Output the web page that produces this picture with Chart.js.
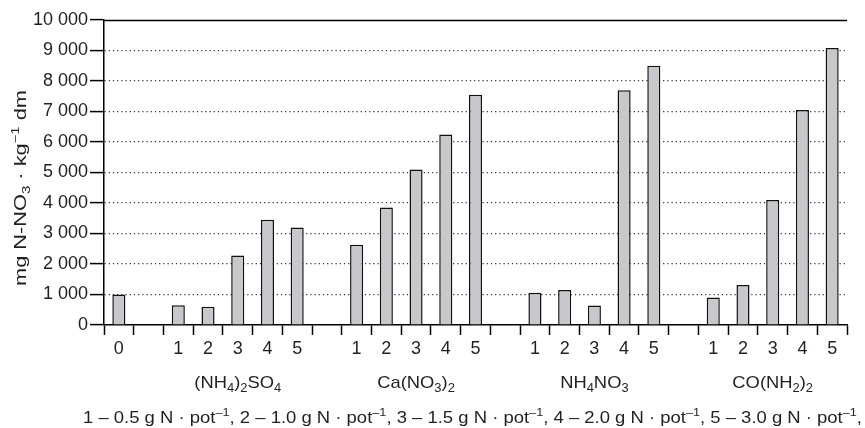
<!DOCTYPE html>
<html>
<head>
<meta charset="utf-8">
<script src="https://cdn.jsdelivr.net/npm/chart.js@4/dist/chart.umd.min.js"></script>
<style>
  html, body { margin: 0; padding: 0; background: #ffffff; }
  #wrap { width: 865px; height: 428px; position: relative; }
</style>
</head>
<body>
<div id="wrap"><canvas id="chart" width="865" height="428"></canvas></div>
<script>
// Nitrate content, mg N-NO3 per kg dry matter
const controlValues = [1000];
const ammoniumSulfate = [650, 600, 2280, 3450, 3200];
const calciumNitrate = [2630, 3850, 5100, 6250, 7550];
const ammoniumNitrate = [1060, 1150, 640, 7700, 8500];
const urea = [900, 1310, 4100, 7050, 9080];

// Dose levels and their meaning (g N per pot)
const doseLabels = ['1', '2', '3', '4', '5'];
const doseAmounts = ['0.5', '1.0', '1.5', '2.0', '3.0'];
const controlLabel = ['0'];

// Fertiliser names, written as text segments (sub = subscript)
const fertilisers = [
  [{t: '(NH'}, {t: '4', sub: true}, {t: ')'}, {t: '2', sub: true}, {t: 'SO'}, {t: '4', sub: true}],
  [{t: 'Ca(NO'}, {t: '3', sub: true}, {t: ')'}, {t: '2', sub: true}],
  [{t: 'NH'}, {t: '4', sub: true}, {t: 'NO'}, {t: '3', sub: true}],
  [{t: 'CO(NH'}, {t: '2', sub: true}, {t: ')'}, {t: '2', sub: true}]
];
const seriesList = [ammoniumSulfate, calciumNitrate, ammoniumNitrate, urea];

const yTickValues = [0, 1000, 2000, 3000, 4000, 5000, 6000, 7000, 8000, 9000, 10000];

// Build the category axis: control, gap, then 5 doses per fertiliser separated by gaps
const categories = [...controlLabel];
const values = [...controlValues];
const groupRanges = [];
seriesList.forEach(series => {
  categories.push('');
  values.push(null);
  const start = categories.length;
  doseLabels.forEach((d, i) => { categories.push(d); values.push(series[i]); });
  groupRanges.push([start, categories.length - 1]);
});

const FONT = "'Liberation Sans', Arial, Helvetica, sans-serif";
const TEXT = '#231f20';

function fmtThousands(v) {
  return String(v).replace(/\B(?=(\d{3})+(?!\d))/g, ' ');
}

// Text runs with sub/superscripts
function measureRich(ctx, segs, size) {
  let w = 0;
  segs.forEach(s => {
    const fs = (s.sub || s.sup) ? Math.round(size * 0.68) : size;
    ctx.font = fs + 'px ' + FONT;
    w += ctx.measureText(s.t).width;
  });
  return w;
}
function drawRich(ctx, segs, x, y, size, align, stretch) {
  ctx.save();
  const natural = measureRich(ctx, segs, size);
  const sx = stretch || 1;
  const total = natural * sx;
  const start = align === 'center' ? x - total / 2 : (align === 'right' ? x - total : x);
  ctx.translate(start, y);
  ctx.scale(sx, 1);
  ctx.fillStyle = TEXT;
  ctx.textBaseline = 'alphabetic';
  ctx.textAlign = 'left';
  let cx = 0;
  segs.forEach(s => {
    const small = s.sub || s.sup;
    const fs = small ? Math.round(size * 0.68) : size;
    ctx.font = fs + 'px ' + FONT;
    const dy = s.sub ? size * 0.25 : (s.sup ? -size * 0.42 : 0);
    ctx.fillText(s.t, cx, dy);
    cx += ctx.measureText(s.t).width;
  });
  ctx.restore();
  return natural;
}

const annotations = {
  id: 'annotations',
  afterDraw(chart) {
    const {ctx, chartArea, scales} = chart;
    const xs = scales.x, ys = scales.y;

    // solid frame line at the top value
    const yTop = Math.round(ys.getPixelForValue(10000)) + 0.5;
    ctx.save();
    ctx.strokeStyle = '#000';
    ctx.lineWidth = 1.5;
    ctx.setLineDash([]);
    ctx.beginPath();
    ctx.moveTo(chartArea.left, yTop);
    ctx.lineTo(chartArea.right, yTop);
    ctx.stroke();
    ctx.restore();

    // fertiliser names under each dose group
    groupRanges.forEach((r, i) => {
      const cx = (xs.getPixelForValue(r[0]) + xs.getPixelForValue(r[1])) / 2;
      drawRich(ctx, fertilisers[i], cx, 388, 17, 'center', 1.08);
    });

    // dose legend line
    const caption = [];
    doseLabels.forEach((d, i) => {
      caption.push({t: d + ' \u2013 ' + doseAmounts[i] + ' g N \u00b7 pot'});
      caption.push({t: '\u20131', sup: true});
      caption.push({t: i < doseLabels.length - 1 ? ', ' : ','});
    });
    const capNatural = measureRich(ctx, caption, 16);
    drawRich(ctx, caption, 83, 423, 16, 'left', 779 / capNatural);

    // y-axis title (rotated)
    const title = [
      {t: 'mg N-NO'}, {t: '3', sub: true}, {t: ' \u00b7 kg'}, {t: '\u22121', sup: true}, {t: ' dm'}
    ];
    const titleNatural = measureRich(ctx, title, 16);
    ctx.save();
    ctx.translate(26, 188);
    ctx.rotate(-Math.PI / 2);
    drawRich(ctx, title, 0, 0, 16, 'center', 196 / titleNatural);
    ctx.restore();
  }
};

new Chart(document.getElementById('chart'), {
  type: 'bar',
  data: {
    labels: categories,
    datasets: [{
      data: values,
      backgroundColor: '#c6c8cc',
      borderColor: '#111111',
      borderWidth: 1.5,
      barPercentage: 0.44,
      categoryPercentage: 1.0,
      skipNull: true
    }]
  },
  options: {
    responsive: false,
    animation: false,
    events: [],
    layout: { padding: { top: 20, right: 18, bottom: 0, left: 0 } },
    plugins: { legend: { display: false }, tooltip: { enabled: false }, title: { display: false } },
    scales: {
      x: {
        type: 'category',
        offset: true,
        grid: {
          display: true,
          offset: true,
          drawOnChartArea: false,
          drawTicks: true,
          tickLength: 10,
          tickColor: '#000',
          tickWidth: 1.5,
          color: '#000'
        },
        border: { display: true, color: '#000', width: 1.5 },
        ticks: {
          color: TEXT,
          font: { family: FONT, size: 18 },
          padding: 3,
          autoSkip: false,
          maxRotation: 0
        },
        afterFit(scale) { scale.height = 103; }
      },
      y: {
        min: 0,
        max: 10000,
        afterBuildTicks(scale) { scale.ticks = yTickValues.map(v => ({value: v})); },
        grid: {
          display: true,
          drawOnChartArea: true,
          drawTicks: true,
          tickLength: 14,
          tickColor: '#000',
          tickWidth: 1.5,
          color: ctx => (ctx.tick && (ctx.tick.value === 0 || ctx.tick.value === 10000)) ? 'rgba(0,0,0,0)' : '#333',
          lineWidth: 1.2
        },
        border: { display: true, color: '#000', width: 1.5, dash: [1.2, 3] },
        ticks: {
          color: TEXT,
          font: { family: FONT, size: 18 },
          padding: 2,
          callback: v => fmtThousands(v)
        },
        afterFit(scale) { scale.width = 104; }
      }
    }
  },
  plugins: [annotations]
});
</script>
</body>
</html>
